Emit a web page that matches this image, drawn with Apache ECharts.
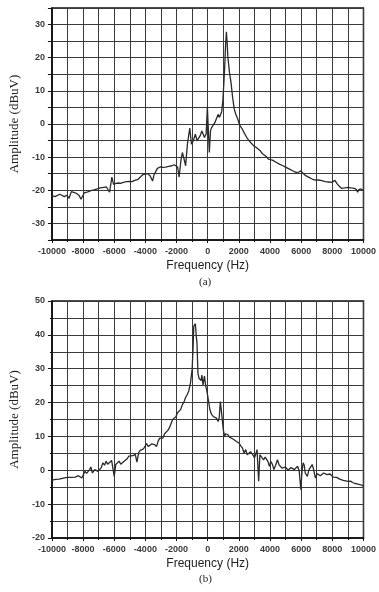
<!DOCTYPE html>
<html>
<head>
<meta charset="utf-8">
<script src="https://cdn.jsdelivr.net/npm/echarts@6/dist/echarts.min.js"></script>
<style>
html, body { margin: 0; padding: 0; background: #fff; }
#main { width: 379px; height: 592px; }
</style>
</head>
<body>
<div id="main"></div>
<script>
// spectrum (a) ----------------------
var freqA = [-10000, -9800, -9690, -9500, -9375, -9200, -9050, -8900, -8750, -8600, -8440, -8250, -8130, -8000,
    -7920, -7700, -7500, -7300, -7080, -6900, -6670, -6500, -6400, -6300, -6150, -6040, -5900, -5730, -5600,
    -5420, -5200, -5000, -4850, -4690, -4500, -4375, -4170, -4000, -3850, -3700, -3540, -3450, -3330, -3230,
    -3020, -2875, -2700, -2500, -2300, -2150, -2044, -1930, -1833, -1720, -1625, -1520, -1417, -1300, -1150,
    -1042, -920, -792, -680, -583, -480, -375, -290, -208, -100, -20, 60, 104, 180, 250, 350, 458, 560, 667,
    760, 833, 900, 979, 1083, 1150, 1200, 1250, 1292, 1400, 1500, 1600, 1708, 1800, 1875, 1950, 2050, 2125,
    2250, 2333, 2500, 2650, 2800, 2958, 3100, 3200, 3375, 3500, 3583, 3750, 3900, 4000, 4150, 4250, 4417,
    4600, 4833, 5000, 5250, 5450, 5667, 5850, 5979, 6100, 6292, 6500, 6708, 6900, 7100, 7333, 7550, 7750,
    7958, 8050, 8167, 8300, 8450, 8583, 8800, 9000, 9200, 9417, 9550, 9625, 9700, 9833, 9900, 10000];
var ampA = [-21.6, -21.9, -21.8, -21.2, -21.4, -21.9, -21.5, -22.4, -20.4, -20.6, -20.9, -21.6, -22.7, -21.5,
    -20.8, -20.5, -20.1, -19.9, -19.6, -19.3, -19.1, -19.0, -18.8, -20.6, -16.0, -18.2, -17.9, -17.8, -17.9,
    -17.6, -17.4, -17.3, -17.4, -17.0, -16.8, -16.5, -15.3, -15.1, -15.0, -15.6, -17.2, -15.4, -14.3, -13.4,
    -12.9, -13.1, -13.0, -12.8, -12.6, -12.3, -12.1, -13.0, -16.0, -11.0, -8.6, -10.5, -12.6, -6.0, -1.2,
    -6.1, -5.0, -3.1, -5.0, -4.6, -3.5, -2.1, -2.5, -4.1, -3.0, 5.2, -4.0, -8.6, -2.0, -1.1, -0.5, 0.4, 1.0, 2.9,
    2.0, 2.4, 3.8, 7.4, 16.4, 24.0, 27.8, 24.5, 20.4, 15.5, 12.4, 8.0, 4.4, 3.0, 3.4, 1.2, -0.3, -0.6,
    -1.8, -2.6, -4.0, -5.0, -5.8, -6.6, -7.0, -7.2, -8.1, -8.9, -8.6, -9.8, -10.6, -11.2, -10.9, -11.3, -11.6,
    -12.1, -12.6, -13.0, -13.6, -14.1, -14.6, -14.5, -14.1, -14.8, -15.6, -16.1, -16.6, -16.9, -16.9, -17.1, -17.4, -17.5,
    -17.6, -17.3, -17.0, -18.0, -18.8, -19.4, -19.3, -19.1, -19.3, -19.4, -19.8, -20.6, -19.8, -19.6, -20.2, -20.1];

// spectrum (b) ----------------------
var freqB = [-10000, -9750, -9540, -9250, -9020, -8750, -8500, -8300, -8190, -8080, -7980, -7875, -7770, -7670,
    -7580, -7500, -7400, -7250, -7150, -7040, -6940, -6830, -6730, -6620, -6520, -6420, -6310, -6170, -6080,
    -6000, -5900, -5790, -5690, -5580, -5480, -5330, -5170, -5060, -4960, -4800, -4650, -4540, -4430, -4330,
    -4230, -4125, -4020, -3920, -3810, -3710, -3600, -3500, -3400, -3290, -3180, -3080, -2980, -2875, -2770,
    -2670, -2560, -2460, -2350, -2250, -2130, -2040, -1937, -1830, -1730, -1625, -1520, -1420, -1312, -1210,
    -1104, -1000, -940, -896, -840, -792, -740, -687, -625, -560, -479, -420, -375, -300, -250, -208, -130,
    -62, 42, 146, 250, 354, 460, 562, 667, 740, 812, 870, 937, 1000, 1083, 1150, 1292, 1400, 1500, 1600,
    1708, 1850, 2021, 2120, 2229, 2333, 2440, 2540, 2646, 2750, 2854, 2950, 3000, 3100, 3167, 3271, 3350,
    3470, 3583, 3690, 3792, 3880, 3958, 4060, 4150, 4250, 4360, 4479, 4580, 4680, 4780, 4875, 4980, 5080,
    5160, 5250, 5350, 5460, 5560, 5667, 5770, 5875, 5979, 6050, 6125, 6200, 6260, 6396, 6500, 6600, 6708,
    6800, 6917, 7020, 7130, 7230, 7333, 7440, 7542, 7650, 7750, 7850, 7958, 8060, 8170, 8280, 8375, 8470,
    8580, 8700, 8850, 9000, 9167, 9300, 9450, 9600, 9750, 9880, 10000];
var ampB = [-2.9, -2.7, -2.6, -2.3, -2.1, -2.1, -2.0, -1.6, -1.5, -2.3, -1.8, -0.3, -0.9, -0.8,
    0.2, 1.0, -0.8, 0.2, 0.7, -0.3, -0.6, 0.8, 2.2, 1.5, 2.7, 1.8, 1.4, 2.9, 0.5,
    -1.8, 1.7, 1.5, 2.7, 1.8, 2.2, 2.8, 3.4, 4.2, 4.4, 4.3, 4.7, 2.4, 5.2, 5.9,
    5.4, 6.3, 6.8, 7.9, 7.0, 6.6, 7.8, 8.3, 7.6, 7.0, 8.6, 9.5, 9.2, 9.5, 10.8,
    10.3, 11.8, 12.5, 12.6, 15.0, 15.3, 15.8, 17.0, 17.2, 18.0, 19.4, 20.2, 21.5, 22.4, 23.5,
    25.8, 29.8, 36.0, 42.5, 42.2, 43.3, 40.0, 37.5, 28.6, 27.2, 27.6, 26.5, 28.1, 25.2, 25.5, 27.8, 25.0,
    23.7, 20.8, 17.8, 16.5, 15.9, 15.6, 15.4, 14.4, 15.5, 20.3, 18.0, 14.9, 12.0, 10.0, 10.8, 10.5, 9.8, 9.5, 9.3,
    9.0, 8.5, 8.0, 7.2, 6.6, 5.1, 6.1, 4.6, 4.1, 5.5, 5.1, 4.2, 3.6, 5.0, 6.1, -3.2, 4.6,
    3.8, 3.1, 3.9, 4.3, 2.5, 1.2, 2.6, 1.8, 0.2, 1.5, 3.1, 1.6, 1.2, 0.6, 0.2, 1.0, 0.7,
    0.0, -0.3, 0.8, 1.0, 0.2, 0.4, 1.2, -0.3, -5.7, -0.5, 2.2, 1.5, -0.8, -1.8, 0.2, 0.7, 1.7,
    0.2, -2.3, -1.0, -0.8, -1.6, -1.3, -0.8, -0.3, -1.3, -1.8, -1.1, -1.3, -2.0, -2.5, -2.1, -1.8, -2.6,
    -2.9, -3.0, -3.1, -3.3, -3.2, -3.6, -3.9, -4.0, -4.2, -4.4, -4.7];

function toPairs(xs, ys) {
    var out = [];
    for (var i = 0; i < xs.length; i++) {
        out.push([xs[i], ys[i]]);
    }
    return out;
}

var gridColor = '#3a3a3a';
var axisColor = '#111';
var labelColor = '#3a3a3a';
var sansFont = 'Liberation Sans';
var serifFont = 'Liberation Serif';

function makeX(idx) {
    return {
        type: 'value', gridIndex: idx,
        min: -10000, max: 10000, interval: 2000,
        name: 'Frequency (Hz)', nameLocation: 'middle', nameGap: 20,
        nameTextStyle: { fontFamily: sansFont, fontSize: 12, color: '#222' },
        axisLine: { show: true, onZero: false, lineStyle: { color: axisColor, width: 1.5 } },
        axisTick: { show: true, length: 3, lineStyle: { color: axisColor } },
        minorTick: { show: true, splitNumber: 2, length: 2, lineStyle: { color: axisColor } },
        axisLabel: {
            margin: 7, fontFamily: sansFont, fontSize: 9, fontWeight: 'bold', color: labelColor,
            // no thousands separator, like the original plot
            formatter: function (v) { return String(v); }
        },
        splitLine: { show: true, lineStyle: { color: gridColor, width: 1 } },
        minorSplitLine: { show: true, lineStyle: { color: gridColor, width: 1 } }
    };
}

function makeY(idx, min, max, interval, minor) {
    return {
        type: 'value', gridIndex: idx,
        min: min, max: max, interval: interval,
        name: 'Amplitude (dBuV)', nameLocation: 'middle', nameGap: 26,
        nameTextStyle: { fontFamily: serifFont, fontSize: 13, color: '#222' },
        axisLine: { show: true, onZero: false, lineStyle: { color: axisColor, width: 1.5 } },
        axisTick: { show: true, length: 4, lineStyle: { color: axisColor } },
        minorTick: { show: minor, splitNumber: 2, length: 2, lineStyle: { color: axisColor } },
        axisLabel: {
            margin: 7, fontFamily: sansFont, fontSize: 9, fontWeight: 'bold', color: labelColor,
            formatter: function (v) { return (v % 10 === 0) ? String(v) : ''; }
        },
        splitLine: { show: true, lineStyle: { color: gridColor, width: 1 } },
        minorSplitLine: { show: minor, lineStyle: { color: gridColor, width: 1 } }
    };
}

function makeLine(idx, data) {
    return {
        type: 'line', xAxisIndex: idx, yAxisIndex: idx,
        data: data, showSymbol: false, symbol: 'none',
        lineStyle: { color: '#2a2a2a', width: 1.3 }
    };
}

var chart = echarts.init(document.getElementById('main'));
var option = {
    backgroundColor: '#fff',
    animation: false,
    grid: [
        { left: 46, top: 8, width: 320, height: 232, show: true, borderColor: axisColor, borderWidth: 1.5 },
        { left: 46, top: 301, width: 320, height: 237, show: true, borderColor: axisColor, borderWidth: 1.5 }
    ],
    xAxis: [makeX(0), makeX(1)],
    yAxis: [makeY(0, -35, 35, 5, false), makeY(1, -20, 50, 10, true)],
    series: [makeLine(0, toPairs(freqA, ampA)), makeLine(1, toPairs(freqB, ampB))],
    graphic: [
        { type: 'text', left: 199, top: 277, style: { text: '(a)', font: '11px "Liberation Serif"', fill: '#222' } },
        { type: 'text', left: 199, top: 574, style: { text: '(b)', font: '11px "Liberation Serif"', fill: '#222' } }
    ]
};
chart.setOption(option);
</script>
</body>
</html>
